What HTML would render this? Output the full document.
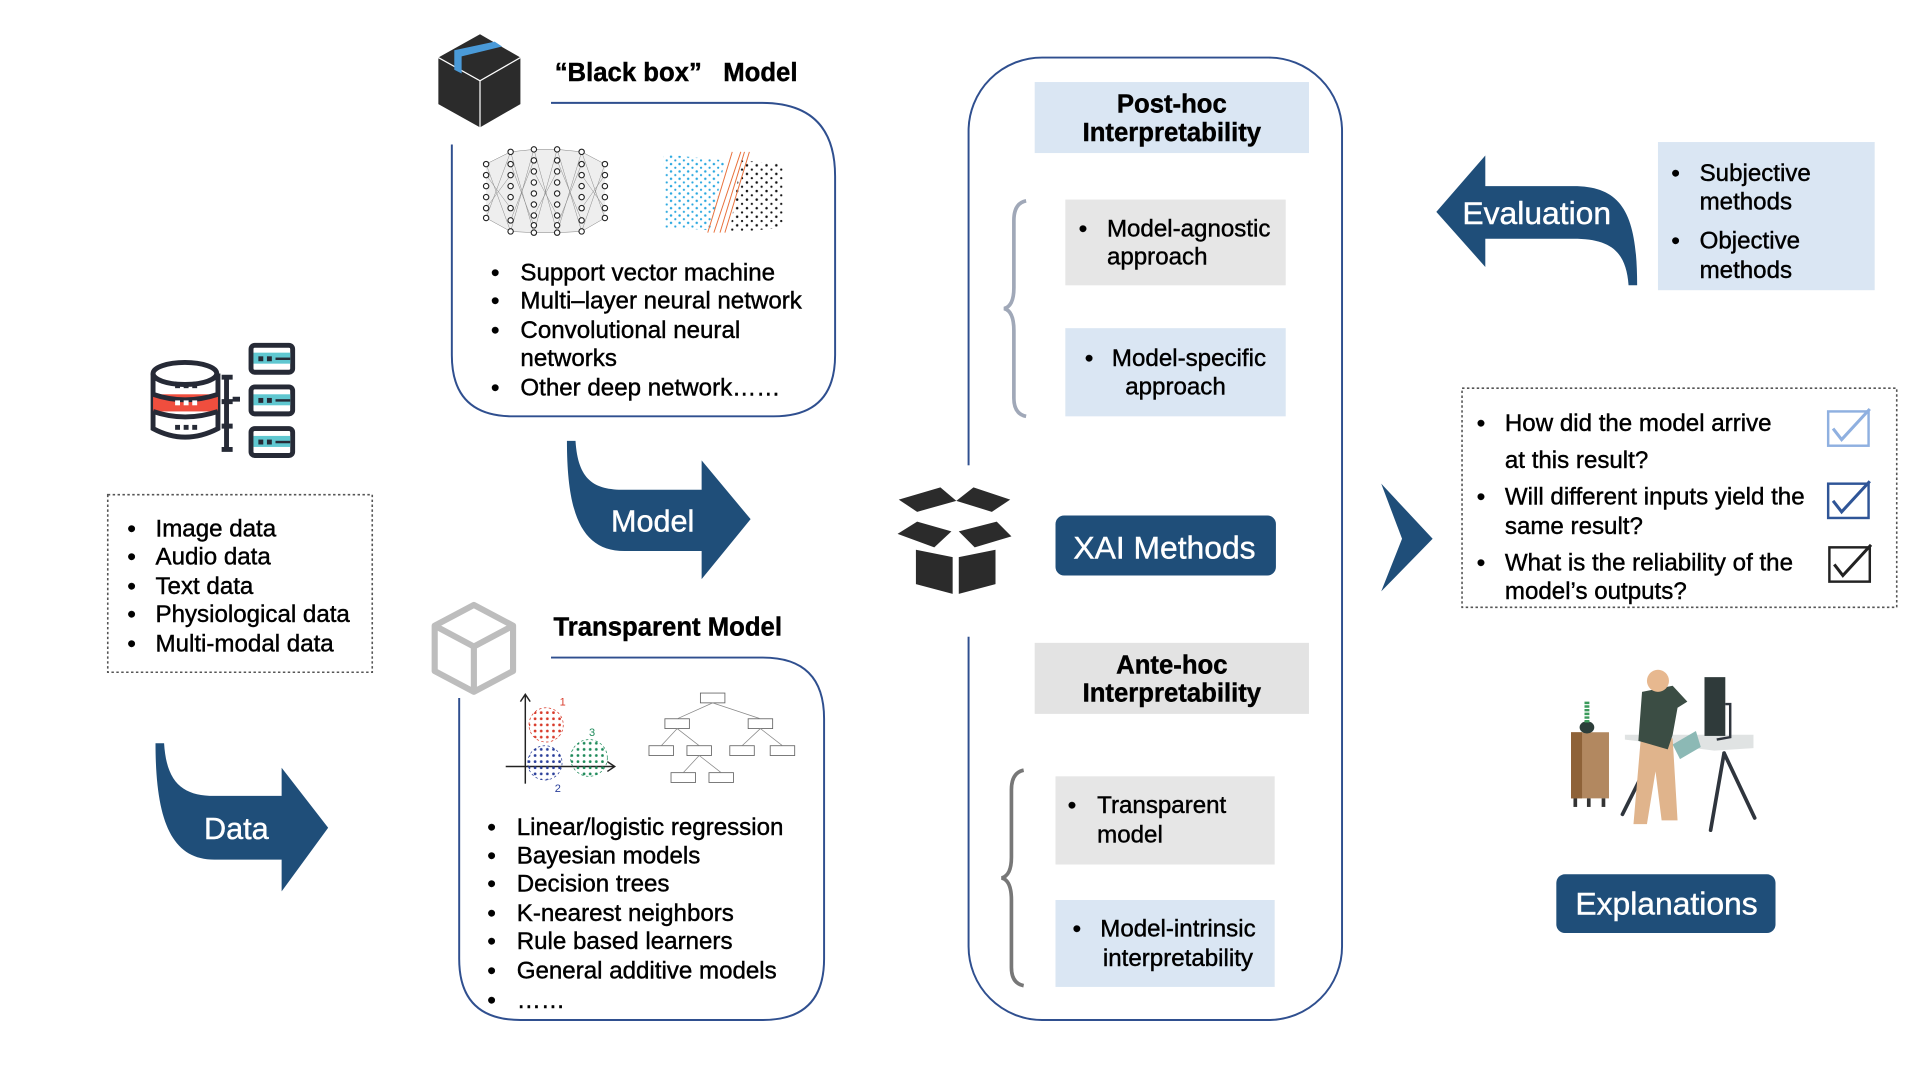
<!DOCTYPE html>
<html><head><meta charset="utf-8"><style>
html,body{margin:0;padding:0;background:#fff;width:1920px;height:1080px;overflow:hidden}
svg{display:block}
text{font-family:"Liberation Sans",Arial,sans-serif;fill:#000;stroke:#000;stroke-width:0.35}
</style></head><body>
<svg width="1920" height="1080" viewBox="0 0 1568 882" preserveAspectRatio="none" xmlns="http://www.w3.org/2000/svg">
<defs>
<pattern id="bd" width="7" height="6" patternUnits="userSpaceOnUse"><circle cx="2" cy="2" r="1" fill="#2aa8e0"/><circle cx="5.5" cy="5" r="0.9" fill="#2aa8e0"/></pattern>
<pattern id="kd" width="8" height="7" patternUnits="userSpaceOnUse"><circle cx="2" cy="2" r="1" fill="#111"/><circle cx="6" cy="5.5" r="0.9" fill="#111"/></pattern>
<pattern id="rd" width="5" height="5" patternUnits="userSpaceOnUse"><circle cx="2" cy="2" r="1.1" fill="#d83a2a"/></pattern>
<pattern id="nd" width="5" height="5" patternUnits="userSpaceOnUse"><circle cx="2" cy="2" r="1.1" fill="#2a3f9a"/></pattern>
<pattern id="gd" width="5" height="5" patternUnits="userSpaceOnUse"><circle cx="2" cy="2" r="1.1" fill="#1e8a5a"/></pattern>
</defs>

<polygon points="392,28 425,47 425,85 392,104 358,85 358,47" fill="#2b2b2b"/>
<polyline points="358,47 392,66 425,47" fill="none" stroke="#fff" stroke-width="1"/>
<line x1="392" y1="66" x2="392" y2="104" stroke="#fff" stroke-width="1"/>
<polygon points="371,41 404,34 410,38 377,46 377,60 371,57" fill="#4a9ad8"/>

<text x="453" y="66" font-size="21" font-weight="bold" xml:space="preserve">“Black box”   Model</text>
<path d="M450,84 L622,84 Q682,84 682,144 L682,290 Q682,340 632,340 L419,340 Q369,340 369,290 L369,118" fill="none" stroke="#2f4f8f" stroke-width="1.6"/>

<g stroke="#777" stroke-width="0.4">
<path d="M397,134 L417,124 M397,134 L417,189 M397,178 L417,124 M397,178 L417,189 M417,124 L436,122 M417,124 L436,190 M417,189 L436,122 M417,189 L436,190 M436,122 L455,122 M436,122 L455,190 M436,190 L455,122 M436,190 L455,190 M455,122 L475,124 M455,122 L475,189 M455,190 L475,124 M455,190 L475,189 M475,124 L494,134 M475,124 L494,178 M475,189 L494,134 M475,189 L494,178 M397,143 L417,170 M397,170 L417,143 M417,134 L436,184 M417,180 L436,131 M436,140 L455,176 M436,176 L455,140 M455,131 L475,180 M455,184 L475,134 M475,143 L494,170 M475,170 L494,143"/>
</g>
<polygon points="397,134 417,124 436,122 455,122 475,124 494,134 494,178 475,189 455,190 436,190 417,189 397,178" fill="#bbb" opacity="0.25"/>
<g fill="#fff" stroke="#222" stroke-width="0.9">
<circle cx="397" cy="134" r="2.2"/><circle cx="397" cy="143" r="2.2"/><circle cx="397" cy="152" r="2.2"/><circle cx="397" cy="161" r="2.2"/><circle cx="397" cy="170" r="2.2"/><circle cx="397" cy="178" r="2.2"/>
<circle cx="417" cy="124" r="2.2"/><circle cx="417" cy="134" r="2.2"/><circle cx="417" cy="143" r="2.2"/><circle cx="417" cy="152" r="2.2"/><circle cx="417" cy="161" r="2.2"/><circle cx="417" cy="170" r="2.2"/><circle cx="417" cy="180" r="2.2"/><circle cx="417" cy="189" r="2.2"/>
<circle cx="436" cy="122" r="2.2"/><circle cx="436" cy="131" r="2.2"/><circle cx="436" cy="140" r="2.2"/><circle cx="436" cy="149" r="2.2"/><circle cx="436" cy="158" r="2.2"/><circle cx="436" cy="167" r="2.2"/><circle cx="436" cy="176" r="2.2"/><circle cx="436" cy="184" r="2.2"/><circle cx="436" cy="190" r="2.2"/>
<circle cx="455" cy="122" r="2.2"/><circle cx="455" cy="131" r="2.2"/><circle cx="455" cy="140" r="2.2"/><circle cx="455" cy="149" r="2.2"/><circle cx="455" cy="158" r="2.2"/><circle cx="455" cy="167" r="2.2"/><circle cx="455" cy="176" r="2.2"/><circle cx="455" cy="184" r="2.2"/><circle cx="455" cy="190" r="2.2"/>
<circle cx="475" cy="124" r="2.2"/><circle cx="475" cy="134" r="2.2"/><circle cx="475" cy="143" r="2.2"/><circle cx="475" cy="152" r="2.2"/><circle cx="475" cy="161" r="2.2"/><circle cx="475" cy="170" r="2.2"/><circle cx="475" cy="180" r="2.2"/><circle cx="475" cy="189" r="2.2"/>
<circle cx="494" cy="134" r="2.2"/><circle cx="494" cy="143" r="2.2"/><circle cx="494" cy="152" r="2.2"/><circle cx="494" cy="161" r="2.2"/><circle cx="494" cy="170" r="2.2"/><circle cx="494" cy="178" r="2.2"/>
</g>
<polygon points="542,126 592,131 580,188 543,186" fill="url(#bd)"/>
<polygon points="605,131 640,134 640,186 596,190" fill="url(#kd)"/>
<g stroke="#e8703a" stroke-width="0.8"><line x1="598" y1="124" x2="578" y2="190"/><line x1="605" y1="124" x2="583" y2="190"/><line x1="608" y1="124" x2="588" y2="190"/><line x1="612" y1="124" x2="592" y2="190"/></g>

<g font-size="19.7">
<text x="401" y="229">•</text><text x="425" y="229">Support vector machine</text>
<text x="401" y="252">•</text><text x="425" y="252">Multi–layer neural network</text>
<text x="401" y="276">•</text><text x="425" y="276">Convolutional neural</text>
<text x="425" y="299">networks</text>
<text x="401" y="323">•</text><text x="425" y="323">Other deep network……</text>
</g>

<path d="M463,360 L470,360 C472,392 485,400 510,400 L573,400 L573,376 L613,424 L573,473 L573,450 L510,450 C475,450 463,420 463,360 Z" fill="#1f4e79"/>
<text x="533" y="434" font-size="25" text-anchor="middle" style="fill:#fff;stroke:#fff">Model</text>

<g fill="none" stroke="#bdbdbd" stroke-width="5" stroke-linejoin="round">
<polygon points="387,494 419,511 419,548 387,565 355,548 355,511"/>
<polyline points="355,511 387,528 419,511"/><line x1="387" y1="528" x2="387" y2="565"/>
</g>
<text x="452" y="519" font-size="21" font-weight="bold">Transparent Model</text>
<path d="M450,537 L623,537 Q673,537 673,587 L673,783 Q673,833 623,833 L425,833 Q375,833 375,783 L375,570" fill="none" stroke="#2f4f8f" stroke-width="1.6"/>

<g stroke="#222" stroke-width="1.2" fill="none"><line x1="429" y1="568" x2="429" y2="640"/><line x1="413" y1="626" x2="502" y2="626"/><polyline points="425,573 429,567 433,573"/><polyline points="496,622 502,626 496,630"/></g>
<circle cx="446" cy="592" r="14" fill="url(#rd)" stroke="#d83a2a" stroke-width="0.6" stroke-dasharray="2 2"/>
<circle cx="445" cy="623" r="14" fill="url(#nd)" stroke="#2a3f9a" stroke-width="0.6" stroke-dasharray="2 2"/>
<circle cx="481" cy="619" r="15" fill="url(#gd)" stroke="#1e8a5a" stroke-width="0.6" stroke-dasharray="2 2"/>
<text x="457" y="576" font-size="9" style="fill:#d83a2a;stroke:none">1</text><text x="481" y="601" font-size="9" style="fill:#1e8a5a;stroke:none">3</text><text x="453" y="647" font-size="9" style="fill:#2a3f9a;stroke:none">2</text>
<g fill="#fff" stroke="#666" stroke-width="0.7">
<rect x="572" y="566" width="20" height="8"/>
<rect x="543" y="587" width="20" height="8"/><rect x="611" y="587" width="20" height="8"/>
<rect x="530" y="609" width="20" height="8"/><rect x="561" y="609" width="20" height="8"/><rect x="596" y="609" width="20" height="8"/><rect x="629" y="609" width="20" height="8"/>
<rect x="548" y="631" width="20" height="8"/><rect x="579" y="631" width="20" height="8"/>
</g>
<g stroke="#888" stroke-width="0.6"><path d="M582,574 L553,587 M582,574 L621,587 M553,595 L540,609 M553,595 L571,609 M621,595 L606,609 M621,595 L639,609 M571,617 L558,631 M571,617 L589,631"/></g>

<g font-size="19.7">
<text x="398" y="682">•</text><text x="422" y="682">Linear/logistic regression</text>
<text x="398" y="705">•</text><text x="422" y="705">Bayesian models</text>
<text x="398" y="728">•</text><text x="422" y="728">Decision trees</text>
<text x="398" y="752">•</text><text x="422" y="752">K-nearest neighbors</text>
<text x="398" y="775">•</text><text x="422" y="775">Rule based learners</text>
<text x="398" y="799">•</text><text x="422" y="799">General additive models</text>
<text x="398" y="823">•</text><text x="422" y="823">……</text>
</g>

<g stroke="#262a36" stroke-width="4" fill="none">
<path d="M125,305 L125,350 Q151,364 178,350 L178,305" fill="#fff"/>
<ellipse cx="151" cy="305" rx="26" ry="9" fill="#fff"/>
<rect x="125" y="322" width="53" height="14" fill="#f04e3e" stroke="none"/>
<path d="M125,322 Q151,331 178,322 M125,336 Q151,345 178,336"/>
<path d="M185,308 L185,367 M181,308 L190,308 M181,367 L190,367 M181,328 L190,328 M181,348 L190,348 M190,326 L196,326"/>
<rect x="205" y="282" width="34" height="22" rx="3" fill="#fff"/>
<rect x="205" y="316" width="34" height="22" rx="3" fill="#fff"/>
<rect x="205" y="350" width="34" height="22" rx="3" fill="#fff"/>
</g>
<g fill="#5fc7d0"><rect x="207" y="288" width="30" height="9"/><rect x="207" y="322" width="30" height="9"/><rect x="207" y="356" width="30" height="9"/></g>
<g fill="#262a36"><rect x="143" y="313" width="4" height="4"/><rect x="150" y="313" width="4" height="4"/><rect x="157" y="313" width="4" height="4"/>
<rect x="143" y="347" width="4" height="4"/><rect x="150" y="347" width="4" height="4"/><rect x="157" y="347" width="4" height="4"/>
<rect x="211" y="291" width="4" height="4"/><rect x="218" y="291" width="4" height="4"/><rect x="225" y="292" width="12" height="2"/>
<rect x="211" y="325" width="4" height="4"/><rect x="218" y="325" width="4" height="4"/><rect x="225" y="326" width="12" height="2"/>
<rect x="211" y="359" width="4" height="4"/><rect x="218" y="359" width="4" height="4"/><rect x="225" y="360" width="12" height="2"/></g>
<g fill="#fff"><rect x="143" y="327" width="4" height="4"/><rect x="150" y="327" width="4" height="4"/><rect x="157" y="327" width="4" height="4"/></g>

<rect x="88" y="404" width="216" height="145" fill="none" stroke="#555" stroke-width="1.3" stroke-dasharray="2 2"/>
<g font-size="19.7">
<text x="104" y="438">•</text><text x="127" y="438">Image data</text>
<text x="104" y="461">•</text><text x="127" y="461">Audio data</text>
<text x="104" y="485">•</text><text x="127" y="485">Text data</text>
<text x="104" y="508">•</text><text x="127" y="508">Physiological data</text>
<text x="104" y="532">•</text><text x="127" y="532">Multi-modal data</text>
</g>

<path d="M127,607 L134,607 C136,640 150,650 175,650 L230,650 L230,627 L268,676 L230,728 L230,702 L175,702 C140,702 127,670 127,607 Z" fill="#1f4e79"/>
<text x="193" y="685" font-size="25" text-anchor="middle" style="fill:#fff;stroke:#fff">Data</text>

<rect x="791" y="47" width="305" height="786" rx="60" fill="none" stroke="#2f4f8f" stroke-width="1.6"/>
<rect x="784" y="380" width="14" height="140" fill="#fff"/>

<rect x="845" y="67" width="224" height="58" fill="#dae6f3"/>
<text x="957" y="92" font-size="21" font-weight="bold" text-anchor="middle">Post-hoc</text>
<text x="957" y="115" font-size="21" font-weight="bold" text-anchor="middle">Interpretability</text>

<path d="M838,164 Q828,166 828,180 L828,235 Q828,250 820,252 Q828,254 828,270 L828,325 Q828,338 838,340" fill="none" stroke="#a0a8b8" stroke-width="3"/>
<rect x="870" y="163" width="180" height="70" fill="#e6e6e6"/>
<text x="881" y="193" font-size="19.7">•</text><text x="904" y="193" font-size="19.7">Model-agnostic</text>
<text x="904" y="216" font-size="19.7">approach</text>
<rect x="870" y="268" width="180" height="72" fill="#dae6f3"/>
<text x="886" y="299" font-size="19.7">•</text><text x="971" y="299" font-size="19.7" text-anchor="middle">Model-specific</text>
<text x="960" y="322" font-size="19.7" text-anchor="middle">approach</text>

<g fill="#2b2b2b">
<polygon points="748,449 778,455 778,485 748,477"/>
<polygon points="783,455 813,449 813,477 783,485"/>
<polygon points="734,408 768,398 781,409 749,418"/>
<polygon points="781,409 795,398 825,408 810,418"/>
<polygon points="733,436 749,426 777,434 763,447"/>
<polygon points="783,434 814,426 826,438 796,447"/>
</g>

<rect x="862" y="421" width="180" height="49" rx="7" fill="#1f4e79"/>
<text x="951" y="456" font-size="26" text-anchor="middle" style="fill:#fff;stroke:#fff">XAI Methods</text>

<rect x="845" y="525" width="224" height="58" fill="#e3e3e3"/>
<text x="957" y="550" font-size="21" font-weight="bold" text-anchor="middle">Ante-hoc</text>
<text x="957" y="573" font-size="21" font-weight="bold" text-anchor="middle">Interpretability</text>

<path d="M836,629 Q826,631 826,645 L826,700 Q826,715 818,717 Q826,719 826,735 L826,790 Q826,803 836,805" fill="none" stroke="#777" stroke-width="3"/>
<rect x="862" y="634" width="179" height="72" fill="#e6e6e6"/>
<text x="872" y="664" font-size="19.7">•</text><text x="896" y="664" font-size="19.7">Transparent</text>
<text x="896" y="688" font-size="19.7">model</text>
<rect x="862" y="735" width="179" height="71" fill="#dae6f3"/>
<text x="876" y="765" font-size="19.7">•</text><text x="962" y="765" font-size="19.7" text-anchor="middle">Model-intrinsic</text>
<text x="962" y="789" font-size="19.7" text-anchor="middle">interpretability</text>

<path d="M1128,395 L1170,440 L1128,483 L1145,440 Z" fill="#1f4e79"/>

<path d="M1173,173 L1213,127 L1213,152 L1285,152 C1325,152 1337,175 1337,233 L1330,233 C1328,205 1315,195 1285,195 L1213,195 L1213,218 Z" fill="#1f4e79"/>
<text x="1255" y="183" font-size="26" text-anchor="middle" style="fill:#fff;stroke:#fff">Evaluation</text>

<rect x="1354" y="116" width="177" height="121" fill="#dae6f3"/>
<g font-size="19.7">
<text x="1365" y="148">•</text><text x="1388" y="148">Subjective</text>
<text x="1388" y="171">methods</text>
<text x="1365" y="203">•</text><text x="1388" y="203">Objective</text>
<text x="1388" y="227">methods</text>
</g>

<rect x="1194" y="317" width="355" height="179" fill="none" stroke="#555" stroke-width="1.3" stroke-dasharray="2 2"/>
<g font-size="19.7">
<text x="1206" y="352">•</text><text x="1229" y="352">How did the model arrive</text>
<text x="1229" y="382">at this result?</text>
<text x="1206" y="412">•</text><text x="1229" y="412">Will different inputs yield the</text>
<text x="1229" y="436">same result?</text>
<text x="1206" y="466">•</text><text x="1229" y="466">What is the reliability of the</text>
<text x="1229" y="489">model’s outputs?</text>
</g>
<rect x="1493" y="336" width="33" height="28" fill="none" stroke="#8fb0e0" stroke-width="2"/>
<path d="M1497,350 L1504,359 L1527,334" fill="none" stroke="#8fb0e0" stroke-width="2.5"/>
<rect x="1493" y="395" width="33" height="28" fill="none" stroke="#2f5597" stroke-width="2"/>
<path d="M1497,409 L1504,418 L1527,393" fill="none" stroke="#2f5597" stroke-width="2.5"/>
<rect x="1494" y="447" width="33" height="28" fill="none" stroke="#222" stroke-width="2"/>
<path d="M1498,461 L1505,470 L1528,445" fill="none" stroke="#222" stroke-width="2.5"/>

<g>
<rect x="1283" y="598" width="31" height="54" fill="#b28860"/>
<rect x="1283" y="598" width="9" height="54" fill="#8e6238"/>
<g fill="#333"><rect x="1285" y="652" width="3" height="7"/><rect x="1296" y="652" width="3" height="7"/><rect x="1308" y="652" width="3" height="7"/></g>
<ellipse cx="1296" cy="594" rx="6" ry="5" fill="#2c3e3a"/>
<path d="M1296,590 L1296,572" stroke="#3a9a5a" stroke-width="4" stroke-dasharray="2 1"/>
<path d="M1327,600 L1432,600 L1432,611 L1400,613 L1327,604 Z" fill="#e0e3e3"/>
<g stroke="#2f353d" stroke-width="3" fill="none" stroke-linecap="round"><path d="M1408,615 L1397,678 M1408,615 L1433,668 M1340,635 L1325,665"/></g>
<rect x="1392" y="553" width="17" height="48" fill="#2f3a3a"/>
<path d="M1409,575 L1413,575 L1413,602 L1402,604" stroke="#2f353d" stroke-width="2" fill="none"/>
<path d="M1340,603 L1366,603 L1370,670 L1357,670 L1352,630 L1345,673 L1334,673 Z" fill="#e0b48c"/>
<path d="M1341,565 L1366,560 L1378,573 L1370,578 L1366,600 L1362,612 L1338,605 Z" fill="#3b4d44"/>
<circle cx="1354" cy="556" r="9" fill="#e7b88f"/>
<path d="M1366,608 L1385,597 L1389,610 L1372,620 Z" fill="#8cb9b5"/>
</g>

<rect x="1271" y="714" width="179" height="48" rx="7" fill="#1f4e79"/>
<text x="1361" y="747" font-size="26" text-anchor="middle" style="fill:#fff;stroke:#fff">Explanations</text>
</svg>
</body></html>
